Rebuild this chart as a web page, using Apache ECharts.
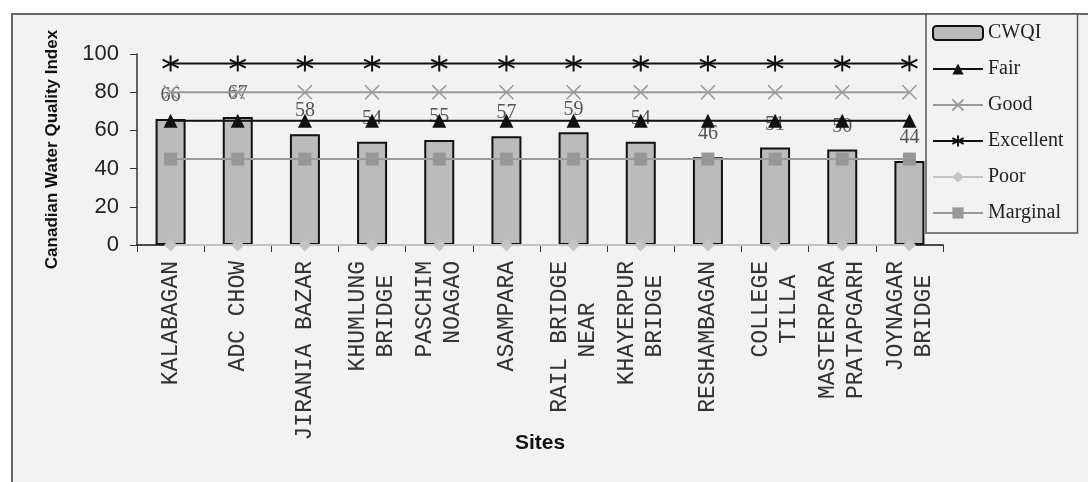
<!DOCTYPE html>
<html>
<head>
<meta charset="utf-8">
<script src="https://cdn.jsdelivr.net/npm/echarts@6/dist/echarts.min.js"></script>
<style>
  html, body { margin: 0; padding: 0; background: #ffffff; }
  #chart { width: 1088px; height: 482px; }
</style>
</head>
<body>
<div id="chart"></div>
<script>
// Sampling sites (two-line names are split with \n)
const sites = [
  'KALABAGAN', 'ADC CHOW', 'JIRANIA BAZAR', 'KHUMLUNG\nBRIDGE',
  'PASCHIM\nNOAGAO', 'ASAMPARA', 'RAIL BRIDGE\nNEAR', 'KHAYERPUR\nBRIDGE',
  'RESHAMBAGAN', 'COLLEGE\nTILLA', 'MASTERPARA\nPRATAPGARH', 'JOYNAGAR\nBRIDGE'
];
// CWQI score per site
const cwqi = [66, 67, 58, 54, 55, 57, 59, 54, 46, 51, 50, 44];
// Category thresholds
const fair      = [65, 65, 65, 65, 65, 65, 65, 65, 65, 65, 65, 65];
const good      = [80, 80, 80, 80, 80, 80, 80, 80, 80, 80, 80, 80];
const excellent = [95, 95, 95, 95, 95, 95, 95, 95, 95, 95, 95, 95];
const poor      = [0, 0, 0, 0, 0, 0, 0, 0, 0, 0, 0, 0];
const marginal  = [45, 45, 45, 45, 45, 45, 45, 45, 45, 45, 45, 45];
const yTicks = { min: 0, max: 100, interval: 20 };

// Centre the shorter line of a two-line monospace label
function centreLines(v) {
  const lines = v.split('\n');
  const n = Math.max.apply(null, lines.map(l => l.length));
  return lines.map(l => {
    const pad = Math.floor((n - l.length) / 2);
    return l + ' '.repeat(pad);
  }).join('\n');
}

const serif = '"Liberation Serif", "Times New Roman", serif';
const sans = '"Liberation Sans", Arial, sans-serif';
const mono = '"Liberation Mono", "Courier New", monospace';

const asterisk = 'path://M0,-10L0,10M-8.66,-5L8.66,5M-8.66,5L8.66,-5';
const cross = 'path://M-10,-10L10,10M-10,10L10,-10';

const chart = echarts.init(document.getElementById('chart'), null, { renderer: 'canvas' });

chart.setOption({
  backgroundColor: '#ffffff',
  animation: false,
  graphic: [{
    type: 'rect',
    silent: true,
    z: -10,
    shape: { x: 12, y: 14, width: 1090, height: 480 },
    style: { fill: '#f2f2f2', stroke: '#666666', lineWidth: 2 }
  }],
  grid: { left: 137, right: 145, top: 54, bottom: 237, containLabel: false },
  legend: {
    orient: 'vertical',
    left: 926,
    top: 14,
    padding: [9, 14, 10, 6],
    itemGap: 16,
    itemWidth: 50,
    itemHeight: 14,
    backgroundColor: '#f2f2f2',
    borderColor: '#555555',
    borderWidth: 1.5,
    textStyle: { fontFamily: serif, fontSize: 20, color: '#222222' },
    data: ['CWQI', 'Fair', 'Good', 'Excellent', 'Poor', 'Marginal']
  },
  xAxis: {
    type: 'category',
    data: sites,
    boundaryGap: true,
    axisLine: { lineStyle: { color: '#111111', width: 1.5 } },
    axisTick: { show: true, length: 7, alignWithLabel: false, lineStyle: { color: '#333333' } },
    axisLabel: {
      rotate: 90,
      interval: 0,
      margin: 16,
      fontFamily: mono,
      fontSize: 23,
      lineHeight: 28,
      color: '#333333',
      formatter: centreLines
    },
    name: 'Sites',
    nameLocation: 'middle',
    nameGap: 188,
    nameMoveOverlap: false,
    nameTextStyle: { fontFamily: sans, fontSize: 21, fontWeight: 'bold', color: '#111111' }
  },
  yAxis: {
    type: 'value',
    min: yTicks.min,
    max: yTicks.max,
    interval: yTicks.interval,
    splitLine: { show: false },
    axisLine: { show: true, lineStyle: { color: '#333333', width: 1.5 } },
    axisTick: { show: true, length: 7, lineStyle: { color: '#333333' } },
    axisLabel: { fontFamily: sans, fontSize: 22, color: '#222222', margin: 18 },
    name: 'Canadian Water Quality Index',
    nameLocation: 'middle',
    nameGap: 76,
    nameTextStyle: { fontFamily: sans, fontSize: 17, fontWeight: 'bold', color: '#111111' }
  },
  series: [
    {
      name: 'CWQI',
      type: 'bar',
      data: cwqi,
      barWidth: 30,
      itemStyle: { color: '#bbbbbb', borderColor: '#111111', borderWidth: 2 },
      label: {
        show: true,
        position: 'top',
        distance: 13,
        fontFamily: serif,
        fontSize: 20,
        color: '#555555'
      },
      z: 2
    },
    {
      name: 'Fair',
      type: 'line',
      data: fair,
      symbol: 'triangle',
      symbolSize: 14,
      lineStyle: { color: '#111111', width: 2 },
      itemStyle: { color: '#111111' },
      z: 3
    },
    {
      name: 'Good',
      type: 'line',
      data: good,
      symbol: cross,
      symbolSize: 14,
      lineStyle: { color: '#9a9a9a', width: 2 },
      itemStyle: { color: 'none', borderColor: '#9a9a9a', borderWidth: 1.6 },
      z: 3
    },
    {
      name: 'Excellent',
      type: 'line',
      data: excellent,
      symbol: asterisk,
      symbolSize: 16,
      lineStyle: { color: '#111111', width: 2 },
      itemStyle: { color: 'none', borderColor: '#111111', borderWidth: 2 },
      z: 3
    },
    {
      name: 'Poor',
      type: 'line',
      data: poor,
      symbol: 'diamond',
      symbolSize: 13,
      lineStyle: { color: '#c4c4c4', width: 2 },
      itemStyle: { color: '#c4c4c4' },
      z: 3
    },
    {
      name: 'Marginal',
      type: 'line',
      data: marginal,
      symbol: 'rect',
      symbolSize: 13,
      lineStyle: { color: '#9a9a9a', width: 2 },
      itemStyle: { color: '#979797' },
      z: 3
    }
  ]
});
</script>
</body>
</html>
